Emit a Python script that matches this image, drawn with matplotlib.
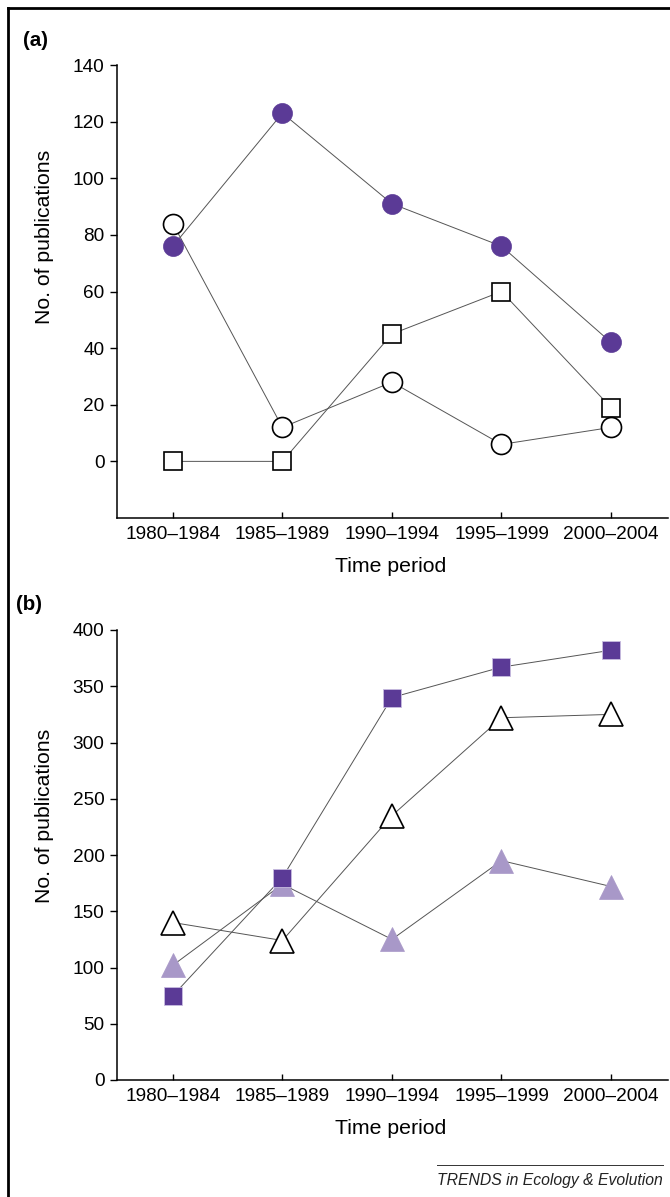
import matplotlib
matplotlib.use("Agg")
import matplotlib.pyplot as plt
from matplotlib.lines import Line2D

plt.rcParams['font.family'] = ['Liberation Sans', 'DejaVu Sans']

periods = ["1980\u20131984", "1985\u20131989", "1990\u20131994", "1995\u20131999", "2000\u20132004"]

# panel (a)
a_filled_circle = [76, 123, 91, 76, 42]
a_open_circle = [84, 12, 28, 6, 12]
a_open_square = [0, 0, 45, 60, 19]

# panel (b)
b_filled_square = [75, 180, 340, 367, 382]
b_open_tri = [140, 124, 235, 322, 325]
b_light_tri = [102, 174, 125, 195, 172]

dark = '#5b3a96'
light = '#a898c8'
fs = 13.7
lfs = 15.3

fig = plt.figure(figsize=(6.7, 11.97), dpi=100)
W, H = 670, 1197

def px_axes(l, t, r, b):
    return fig.add_axes([l / W, 1 - b / H, (r - l) / W, (b - t) / H])

axa = px_axes(117, 65, 668, 518)
axb = px_axes(117, 630, 668, 1080)

x = list(range(len(periods)))
line_kw = dict(color='#555555', lw=0.7, zorder=1)

def series(ax, vals, marker, ms, face, edge, mew=1.2):
    ax.plot(x, vals, **line_kw)
    ax.plot(x, vals, linestyle='none', marker=marker, ms=ms,
            mfc=face, mec=edge, mew=mew, zorder=3)

series(axa, a_open_square, 's', 13.5, 'white', 'black')
series(axa, a_open_circle, 'o', 14.4, 'white', 'black')
series(axa, a_filled_circle, 'o', 14.4, dark, dark, 0.5)

series(axb, b_open_tri, '^', 17, 'white', 'black')
series(axb, b_light_tri, '^', 17, light, light, 0.5)
series(axb, b_filled_square, 's', 13.5, dark, '#c8bde0', 0.6)

for ax in (axa, axb):
    ax.spines['top'].set_visible(False)
    ax.spines['right'].set_visible(False)
    for s in ('left', 'bottom'):
        ax.spines[s].set_linewidth(1.1)
    ax.set_xlim(-0.51, 4.52)
    ax.set_xticks(x)
    ax.set_xticklabels(periods, fontsize=fs)
    ax.tick_params(axis='x', direction='in', length=4, width=1, pad=6)
    ax.tick_params(axis='y', direction='out', length=5, width=1, labelsize=fs, pad=4)
    ax.patch.set_visible(False)

axa.set_ylim(-20, 140)
axa.set_yticks(range(0, 141, 20))
axb.set_ylim(0, 400)
axb.set_yticks(range(0, 401, 50))

# axis labels
fig.text(45 / W, 1 - 237 / H, "No. of publications", rotation=90,
         ha='center', va='center', fontsize=lfs)
fig.text(45 / W, 1 - 816 / H, "No. of publications", rotation=90,
         ha='center', va='center', fontsize=lfs)
fig.text(391 / W, 1 - 566 / H, "Time period", ha='center', va='center', fontsize=lfs)
fig.text(391 / W, 1 - 1128 / H, "Time period", ha='center', va='center', fontsize=lfs)

fig.text(23 / W, 1 - 40 / H, "(a)", ha='left', va='center', fontsize=14.8, fontweight='bold')
fig.text(16 / W, 1 - 604 / H, "(b)", ha='left', va='center', fontsize=14.8, fontweight='bold')

# caption
fig.add_artist(Line2D([437 / W, 663 / W], [1 - 1165 / H, 1 - 1165 / H],
                      color='#333333', lw=0.7))
fig.text(663 / W, 1 - 1180 / H, "TRENDS in Ecology & Evolution", ha='right',
         va='center', fontsize=11.3, style='italic', color='#222222')

# frame
fig.add_artist(Line2D([7.5 / W, 7.5 / W], [0, 1 - 7.5 / H], color='black', lw=2))
fig.add_artist(Line2D([7.5 / W, 1], [1 - 7.5 / H, 1 - 7.5 / H], color='black', lw=2))

fig.savefig('out.png', dpi=100)
